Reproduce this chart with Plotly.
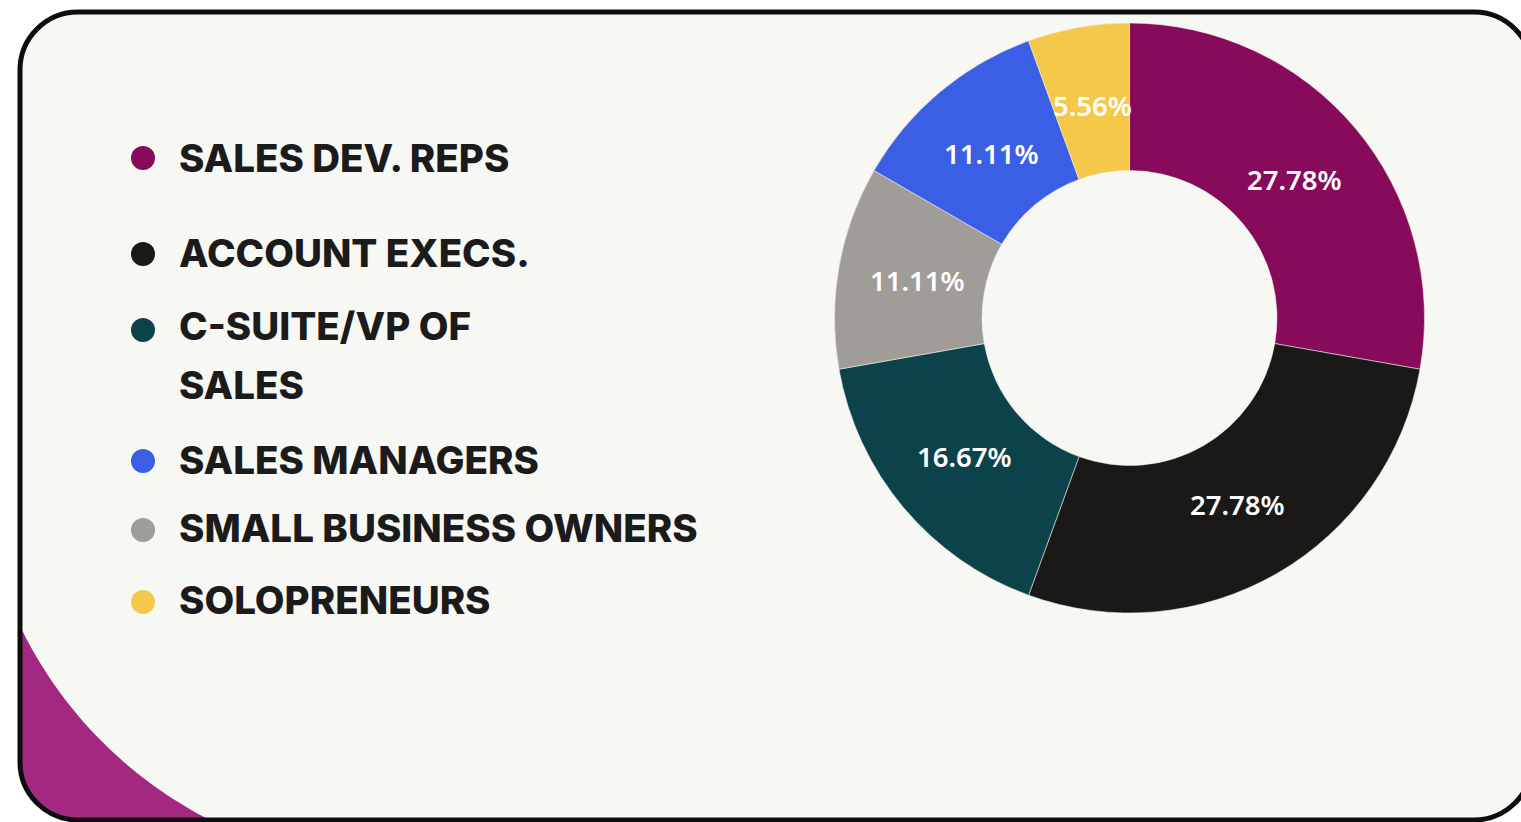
import numpy as np
import plotly.graph_objects as go

# ---- data ----
pie_labels = ["SALES DEV. REPS", "ACCOUNT EXECS.", "C-SUITE/VP OF SALES",
              "SMALL BUSINESS OWNERS", "SALES MANAGERS", "SOLOPRENEURS"]
pie_values = [27.78, 27.78, 16.67, 11.11, 11.11, 5.56]
pie_colors = ["#870a5b", "#1b1917", "#0c434b", "#a09d98", "#3a5fe4", "#f5c84a"]

legend_labels = ["SALES DEV. REPS", "ACCOUNT EXECS.", "C-SUITE/VP OF<br>SALES",
                 "SALES MANAGERS", "SMALL BUSINESS OWNERS", "SOLOPRENEURS"]
legend_colors = ["#870a5b", "#1b1917", "#0c434b", "#3a5fe4", "#a09d98", "#f5c84a"]

# ---- layout constants (pixel space) ----
W, H = 1521, 822
CX, CY, R = 1129.5, 318.0, 295.0
HOLE = 0.5
CARD_BG = "#f7f7f4"
ACCENT = "#a2297f"

# legend rows: dot y and first-line text y
row_dot_y = [158, 254, 330, 461, 530, 602]
row_txt_y = [158, 253, 326, 460, 528, 600]
LINE_GAP = 59
DOT_X, TXT_X = 143, 177

fig = go.Figure()

# donut
fig.add_trace(go.Pie(
    labels=pie_labels, values=pie_values, sort=False,
    direction="clockwise", rotation=0, hole=HOLE,
    marker=dict(colors=pie_colors, line=dict(color="rgba(240,240,236,0.55)", width=1)),
    textinfo="none", hoverinfo="label+value", showlegend=False,
    domain=dict(x=[(CX - R) / W, (CX + R) / W],
                y=[1 - (CY + R) / H, 1 - (CY - R) / H]),
))

# legend dots
fig.add_trace(go.Scatter(
    x=[DOT_X] * len(legend_labels), y=row_dot_y, mode="markers",
    marker=dict(size=24, color=legend_colors, line=dict(width=0)),
    hoverinfo="skip", showlegend=False,
))

annotations = []
for lab, ty in zip(legend_labels, row_txt_y):
    for i, line in enumerate(lab.split("<br>")):
        annotations.append(dict(
            x=TXT_X, y=ty + i * LINE_GAP, xref="x", yref="y", text=line,
            showarrow=False, xanchor="left", yanchor="middle", align="left",
            font=dict(family="Inter", size=38.5, color="#1b1b1b", weight=800),
        ))

# percentage labels placed at the middle of each slice
total = sum(pie_values)
cum = 0.0
r_lab = 0.73 * R
for v in pie_values:
    mid = (cum + v / 2) / total * 2 * np.pi
    cum += v
    lx = CX + r_lab * np.sin(mid)
    ly = CY - r_lab * np.cos(mid)
    annotations.append(dict(
        x=lx, y=ly, xref="x", yref="y", text=f"{v:.2f}%", showarrow=False,
        xanchor="center", yanchor="middle",
        font=dict(family="Noto Sans", size=27.5, color="white", weight=600),
    ))

# card outline with rounded corners (cubic bezier corners)
L, T, Rt, B, rc = 20, 12, 1532, 820, 58
k = 0.5523 * rc
card_path = (
    f"M {L+rc},{T} L {Rt-rc},{T} "
    f"C {Rt-rc+k},{T} {Rt},{T+rc-k} {Rt},{T+rc} "
    f"L {Rt},{B-rc} C {Rt},{B-rc+k} {Rt-rc+k},{B} {Rt-rc},{B} "
    f"L {L+rc},{B} C {L+rc-k},{B} {L},{B-rc+k} {L},{B-rc} "
    f"L {L},{T+rc} C {L},{T+rc-k} {L+rc-k},{T} {L+rc},{T} Z"
)

# accent corner: region outside a large circle, bottom-left
ax0, ay0, ar = 402.0, 442.0, 424.0
a_start = np.arctan2(np.sqrt(ar**2 - (ax0 - L) ** 2), -(ax0 - L))
a_end = np.arctan2(B - ay0, -np.sqrt(ar**2 - (B - ay0) ** 2))
angs = np.linspace(a_start, a_end, 40)
pts = [(ax0 + ar * np.cos(a), ay0 + ar * np.sin(a)) for a in angs]
accent_path = f"M {pts[0][0]:.1f},{pts[0][1]:.1f} " + " ".join(
    f"L {x:.1f},{y:.1f}" for x, y in pts[1:])
accent_path += (f" L {L+rc},{B} C {L+rc-k},{B} {L},{B-rc+k} {L},{B-rc} Z")

shapes = [
    dict(type="path", path=card_path, xref="x", yref="y",
         fillcolor=CARD_BG, line=dict(width=0), layer="below"),
    dict(type="path", path=accent_path, xref="x", yref="y",
         fillcolor=ACCENT, line=dict(width=0), layer="below"),
    dict(type="path", path=card_path, xref="x", yref="y",
         fillcolor="rgba(0,0,0,0)", line=dict(color="#0d0d0d", width=5), layer="below"),
]

fig.update_layout(
    width=W, height=H, margin=dict(l=0, r=0, t=0, b=0),
    paper_bgcolor="white", plot_bgcolor="rgba(0,0,0,0)",
    xaxis=dict(range=[0, W], visible=False, fixedrange=True, domain=[0, 1]),
    yaxis=dict(range=[H, 0], visible=False, fixedrange=True, domain=[0, 1]),
    shapes=shapes, annotations=annotations, showlegend=False,
)

fig.write_html("out.html", config={"displayModeBar": False})
